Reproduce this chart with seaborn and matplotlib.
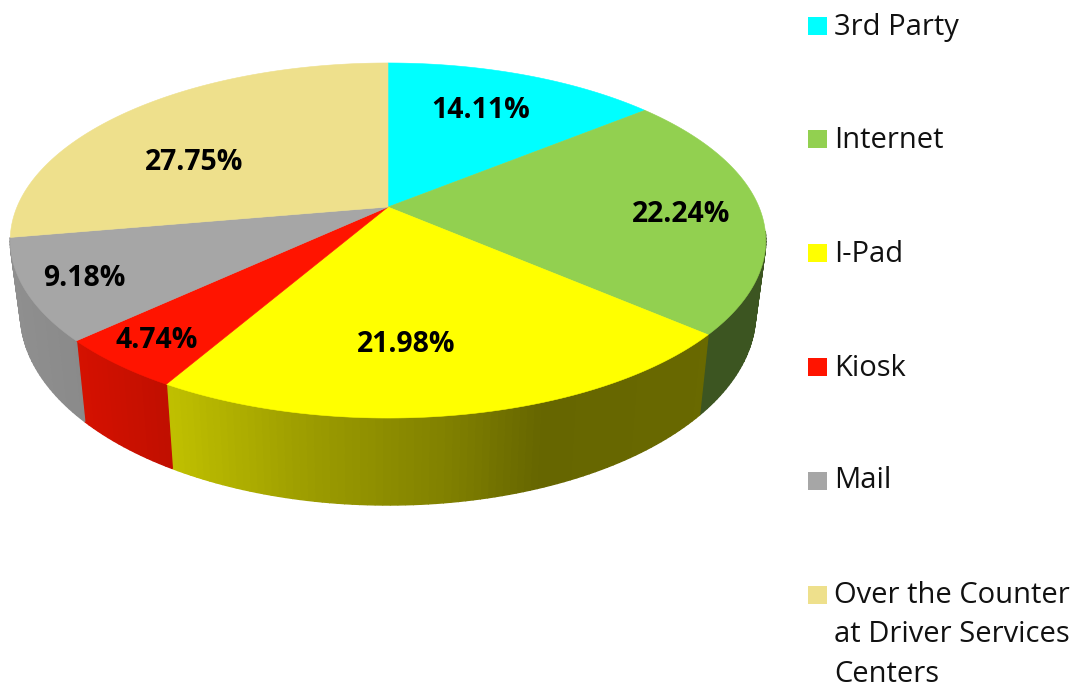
import numpy as np
import pandas as pd
import matplotlib
matplotlib.use("Agg")
import matplotlib.pyplot as plt
import seaborn as sns

channels = ["3rd Party", "Internet", "I-Pad", "Kiosk", "Mail", "Over the Counter\nat Driver Services\nCenters"]
shares = [14.11, 22.24, 21.98, 4.74, 9.18, 27.75]
colors = ["#00FFFF", "#92D050", "#FFFF00", "#FF1400", "#A6A6A6", "#EEE08C"]

# layout, in pixels of the output
label_xy = [(481, 107), (681, 211), (406, 341), (157, 337), (84, 276), (194, 159)]
legend_y = [26, 139, 253, 367, 481, 595]
legend_text_y = [26, 139, 253, 367, 480, 634]

# perspective of the disc
cx, top_cy, bottom_cy = 388, 207, 277
top_a, top_b = 371, 171.2
bottom_a, bottom_b = 361, 185
k = 0.1887

# wall brightness against screen x
shade_x = [20, 85, 173, 300, 450, 540, 700, 770]
shade_v = [0.86, 0.83, 0.75, 0.62, 0.50, 0.40, 0.41, 0.41]


def project(theta, a, b, cy):
    u = np.sin(theta)
    v = -np.cos(theta)
    d = 1 - k * v
    return cx + a * u / d, cy + b * v / d


sns.set_theme(style="white")
plt.rcParams["font.family"] = ["Open Sans", "DejaVu Sans"]

fig = plt.figure(figsize=(10.76, 6.9), dpi=100)
ax = fig.add_axes([0, 0, 1, 1])
ax.set_xlim(0, 1076)
ax.set_ylim(690, 0)
ax.axis("off")

edges = np.cumsum([0] + shares) / 100 * 2 * np.pi

# side wall first, then the top over it; the last slice has no visible wall
for i in range(len(shares) - 1):
    lo = max(edges[i], np.radians(98))
    hi = edges[i + 1]
    if hi <= lo:
        continue
    steps = np.linspace(lo, hi, max(2, int((hi - lo) * 60)))
    base = np.array(matplotlib.colors.to_rgb(colors[i]))
    for t0, t1 in zip(steps[:-1], steps[1:]):
        x0, y0 = project(t0, top_a, top_b, top_cy)
        x1, y1 = project(t1, top_a, top_b, top_cy)
        x2, y2 = project(t1, bottom_a, bottom_b, bottom_cy)
        x3, y3 = project(t0, bottom_a, bottom_b, bottom_cy)
        shade = np.interp((x0 + x1 + x2 + x3) / 4, shade_x, shade_v)
        ax.fill([x0, x1, x2, x3], [y0, y1, y2, y3], color=base * shade, lw=1.0, zorder=2)

for i in range(len(shares)):
    theta = np.linspace(edges[i], edges[i + 1], 120)
    x, y = project(theta, top_a, top_b, top_cy)
    ax.fill(np.r_[cx, x], np.r_[top_cy, y], color=colors[i], lw=0.4, zorder=3)

for share, (lx, ly) in zip(shares, label_xy):
    ax.text(lx, ly + 3, f"{share:.2f}%", ha="center", va="center", fontsize=20.4,
            fontweight="bold", color="black", zorder=4)

legend_df = pd.DataFrame({"channel": channels, "x": [817.5] * len(channels), "y": legend_y})
sns.scatterplot(data=legend_df, x="x", y="y", hue="channel", palette=colors, marker="s",
                s=187, linewidth=0, legend=False, ax=ax, clip_on=False)
ax.set_xlim(0, 1076)
ax.set_ylim(690, 0)

for name, ty in zip(channels, legend_text_y):
    ax.text(834, ty + 1, name, ha="left", va="center", fontsize=21, color="#111111", linespacing=1.46)

fig.savefig("out.png", dpi=100)
